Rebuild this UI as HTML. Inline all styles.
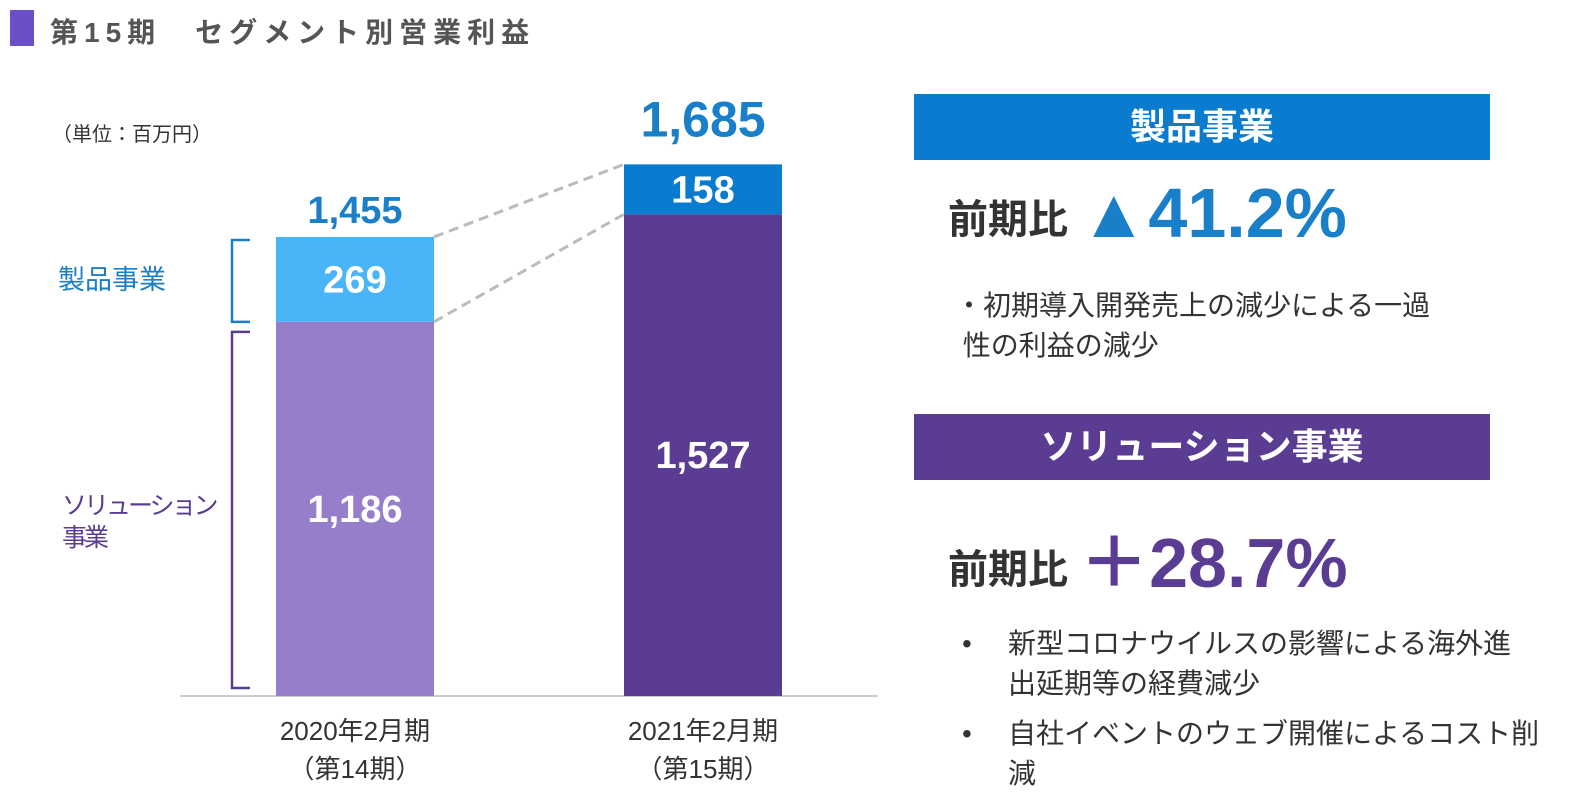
<!DOCTYPE html>
<html><head><meta charset="utf-8"><style>
body{margin:0;width:1585px;height:804px;background:#fff;overflow:hidden;font-family:"Liberation Sans","Noto Sans CJK JP",sans-serif;position:relative}
.a{position:absolute;white-space:nowrap}
</style></head><body>
<div class="a" style="left:10px;top:10px;width:24px;height:36px;background:#6a4fc8"></div>
<div class="a" style="left:50px;top:11px;font-size:28px;font-weight:bold;color:#555;letter-spacing:6px">第15期　セグメント別営業利益</div>
<div class="a" style="left:52px;top:118px;font-size:20px;color:#333">（単位：百万円）</div>
<svg class="a" style="left:0;top:0" width="900" height="804" id="chart"></svg>
<div class="a" style="left:58px;top:258px;font-size:27px;color:#1a7fc9">製品事業</div>
<div class="a" style="left:62px;top:490px;font-size:25px;line-height:32px;letter-spacing:-3px;color:#5a3c93">ソリューション<br>事業</div>
<div class="a" style="left:255px;top:712px;width:200px;text-align:center;font-size:26px;line-height:38px;color:#333">2020年2月期<br>（第14期）</div>
<div class="a" style="left:603px;top:712px;width:200px;text-align:center;font-size:26px;line-height:38px;color:#333">2021年2月期<br>（第15期）</div>
<div class="a" style="left:914px;top:94px;width:576px;height:66px;background:#0a7ccf;color:#fff;font-size:36px;font-weight:bold;text-align:center;line-height:66px">製品事業</div>
<div class="a" style="left:948px;top:178px;font-size:40px;font-weight:bold;color:#333;line-height:70px">前期比 <span style="color:#1a7fc9;font-size:70px;vertical-align:-4px">▲41.2%</span></div>
<div class="a" style="left:955px;top:286px;font-size:28px;line-height:40px;color:#333">・初期導入開発売上の減少による一過<br>&nbsp;性の利益の減少</div>
<div class="a" style="left:914px;top:414px;width:576px;height:66px;background:#5a3c93;color:#fff;font-size:36px;font-weight:bold;text-align:center;line-height:66px">ソリューション事業</div>
<div class="a" style="left:948px;top:528px;font-size:40px;font-weight:bold;color:#333;line-height:70px">前期比 <span style="color:#5a3c93;font-size:70px;vertical-align:-4px">＋28.7%</span></div>
<div class="a" style="left:962px;top:624px;font-size:28px;line-height:40px;color:#333">•<span style="position:absolute;left:46px">新型コロナウイルスの影響による海外進<br>出延期等の経費減少</span></div>
<div class="a" style="left:962px;top:714px;font-size:28px;line-height:40px;color:#333">•<span style="position:absolute;left:46px">自社イベントのウェブ開催によるコスト削<br>減</span></div>
<script>
const categories=["2020","2021"];
const solution=[1186,1527];
const product=[269,158];
const totals=["1,455","1,685"];
const solLabels=["1,186","1,527"];
const prodLabels=["269","158"];
const solColors=["#967ecb","#5a3c93"];
const prodColors=["#4ab4f9","#0a7ccf"];
const svg=document.getElementById('chart');
const NS="http://www.w3.org/2000/svg";
const base=696,k=0.3155;
const y=v=>base-v*k;
const xs=i=>276+i*348, bw=158;
function mk(t,a){const e=document.createElementNS(NS,t);for(const n in a)e.setAttribute(n,a[n]);svg.appendChild(e);return e;}
const ax=mk('line',{x1:180,x2:878,y1:base,y2:base,stroke:'#bbb','stroke-width':1.5});


const b1=mk('path',{d:`M250 ${y(solution[0]+product[0])+3} H232 V${y(solution[0])} H250`,fill:'none',stroke:'#1a7fc9','stroke-width':2.5});


const b2=mk('path',{d:`M250 ${y(solution[0])+10} H232 V${base-8} H250`,fill:'none',stroke:'#5a3c93','stroke-width':2.5});


[[solution[0]+product[0],solution[1]+product[1]],[solution[0],solution[1]]].forEach((p,j)=>{
const l=mk('line',{x1:xs(0)+bw,y1:y(p[0]),x2:xs(1),y2:y(p[1]),stroke:'#bbb','stroke-width':3,'stroke-dasharray':'10,6'});


});
categories.forEach((c,i)=>{
const s=mk('rect',{x:xs(i),y:y(solution[i]),width:bw,height:solution[i]*k,fill:solColors[i]});


const p=mk('rect',{x:xs(i),y:y(solution[i]+product[i]),width:bw,height:product[i]*k,fill:prodColors[i]});


const cx=xs(i)+bw/2;
const t1=mk('text',{x:cx,y:(y(solution[i])+base)/2+13,'text-anchor':'middle','font-size':38,'font-weight':'bold',fill:'#fff'});t1.textContent=solLabels[i];


const t2=mk('text',{x:cx,y:y(solution[i]+product[i]/2)+13,'text-anchor':'middle','font-size':38,'font-weight':'bold',fill:'#fff'});t2.textContent=prodLabels[i];


const t3=mk('text',{x:cx,y:y(solution[i]+product[i])-(i?28:14),'text-anchor':'middle','font-size':i?50:38,'font-weight':'bold',fill:'#1a7fc9'});t3.textContent=totals[i];


});
</script>
</body></html>
